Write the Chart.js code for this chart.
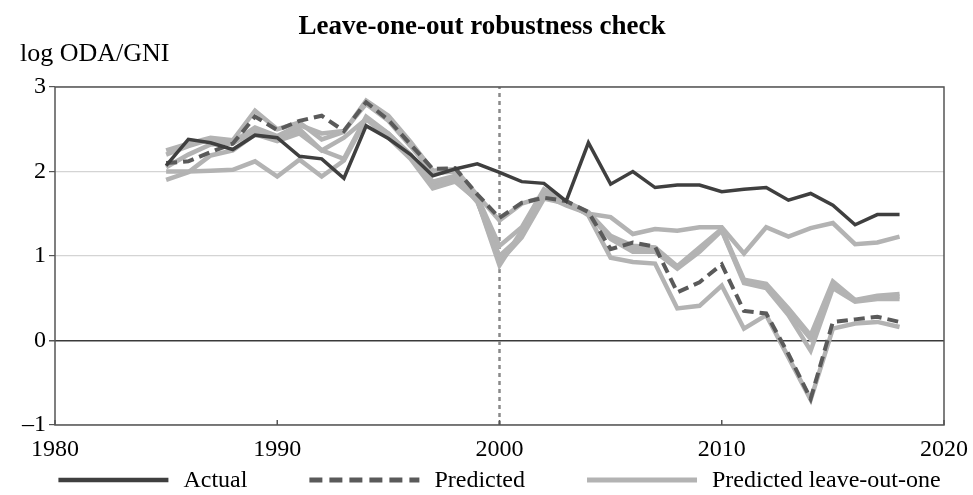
<!DOCTYPE html>
<html lang="en">
<head>
<meta charset="UTF-8">
<title>Leave-one-out robustness check</title>
<script src="https://cdn.jsdelivr.net/npm/chart.js"></script>
<style>
  html, body { margin: 0; padding: 0; background: #fff; }
  #caixa { width: 973px; height: 495px; }
</style>
</head>
<body>
<div id="caixa"><canvas id="grafico"></canvas></div>
<script>
// anos do eixo x
const anos = [1985, 1986, 1987, 1988, 1989, 1990, 1991, 1992, 1993, 1994, 1995, 1996,
  1997, 1998, 1999, 2000, 2001, 2002, 2003, 2004, 2005, 2006, 2007, 2008, 2009, 2010,
  2011, 2012, 2013, 2014, 2015, 2016, 2017, 2018];

// serie real
const actual = [2.07, 2.38, 2.34, 2.26, 2.43, 2.40, 2.18, 2.15, 1.92, 2.54, 2.39, 2.20,
  1.95, 2.03, 2.09, 1.99, 1.88, 1.86, 1.65, 2.34, 1.85, 2.00, 1.81, 1.84, 1.84, 1.76,
  1.79, 1.81, 1.66, 1.74, 1.60, 1.37, 1.49, 1.49];

// serie prevista
const predicted = [2.10, 2.12, 2.23, 2.33, 2.65, 2.49, 2.60, 2.66, 2.48, 2.82, 2.61, 2.32,
  2.03, 2.04, 1.73, 1.45, 1.63, 1.69, 1.65, 1.52, 1.08, 1.16, 1.11, 0.57, 0.69, 0.90,
  0.35, 0.32, -0.16, -0.69, 0.22, 0.25, 0.28, 0.22];

// previsoes deixando um de fora
const loo1 = [2.25, 2.33, 2.40, 2.37, 2.72, 2.50, 2.58, 2.38, 2.47, 2.84, 2.66, 2.35,
  2.01, 2.03, 1.72, 1.42, 1.62, 1.70, 1.62, 1.50, 1.46, 1.26, 1.32, 1.30, 1.34, 1.34,
  1.03, 1.34, 1.23, 1.33, 1.39, 1.14, 1.16, 1.23];
const loo2 = [2.20, 2.30, 2.38, 2.35, 2.52, 2.42, 2.55, 2.45, 2.48, 2.80, 2.60, 2.30,
  1.98, 2.00, 1.70, 1.12, 1.34, 1.79, 1.64, 1.52, 1.24, 1.12, 1.10, 0.88, 1.10, 1.32,
  0.72, 0.67, 0.38, 0.06, 0.70, 0.48, 0.53, 0.55];
const loo3 = [2.05, 2.20, 2.32, 2.33, 2.48, 2.38, 2.50, 2.25, 2.40, 2.62, 2.45, 2.19,
  1.88, 1.95, 1.64, 1.00, 1.24, 1.72, 1.60, 1.50, 1.20, 1.05, 1.05, 0.85, 1.05, 1.30,
  0.68, 0.62, 0.30, -0.12, 0.62, 0.46, 0.49, 0.49];
const loo4 = [2.00, 2.00, 2.01, 2.02, 2.12, 1.94, 2.14, 1.94, 2.13, 2.62, 2.40, 2.15,
  1.80, 1.88, 1.66, 0.89, 1.30, 1.75, 1.65, 1.48, 0.98, 0.93, 0.91, 0.38, 0.41, 0.65,
  0.14, 0.30, -0.20, -0.70, 0.14, 0.20, 0.22, 0.16];
const loo5 = [1.90, 1.99, 2.19, 2.25, 2.44, 2.36, 2.45, 2.25, 2.15, 2.65, 2.45, 2.20,
  1.85, 1.90, 1.66, 0.93, 1.22, 1.68, 1.62, 1.50, 1.22, 1.08, 1.08, 0.87, 1.08, 1.31,
  0.70, 0.64, 0.34, 0.02, 0.66, 0.47, 0.51, 0.52];

// linha vertical pontilhada
const anoCorte = 2000;

const xTicks = [1980, 1990, 2000, 2010, 2020];
const yTicks = [-1, 0, 1, 2, 3];

const fonte = 'Liberation Serif';
const corActual = '#3f3f3f';
const corPredicted = '#5a5a5a';
const corLoo = '#b3b3b3';

function pontos(valores) {
  return anos.map((a, i) => ({ x: a, y: valores[i] }));
}

function linhaLoo(valores, rotulo) {
  return {
    label: rotulo,
    data: pontos(valores),
    borderColor: corLoo,
    borderWidth: 4.5,
    pointRadius: 0,
    tension: 0,
    order: 3
  };
}

const dados = {
  datasets: [
    {
      label: 'Actual',
      data: pontos(actual),
      borderColor: corActual,
      borderWidth: 3.5,
      pointRadius: 0,
      tension: 0,
      order: 0
    },
    {
      label: 'Predicted',
      data: pontos(predicted),
      borderColor: corPredicted,
      borderWidth: 4,
      borderDash: [11, 6],
      pointRadius: 0,
      tension: 0,
      order: 1
    },
    linhaLoo(loo1, 'Predicted leave-out-one'),
    linhaLoo(loo2, ''),
    linhaLoo(loo3, ''),
    linhaLoo(loo4, ''),
    linhaLoo(loo5, ''),
    {
      label: '',
      data: [{ x: anoCorte, y: yTicks[0] }, { x: anoCorte, y: yTicks[yTicks.length - 1] }],
      borderColor: '#8a8a8a',
      borderWidth: 2.5,
      borderDash: [4, 4],
      pointRadius: 0,
      order: 4
    }
  ]
};

// itens da legenda desenhados como linhas
const itensLegenda = [
  { text: 'Actual', cor: corActual, largura: 4.5, traco: [] },
  { text: 'Predicted', cor: corPredicted, largura: 5, traco: [13, 7] },
  { text: 'Predicted leave-out-one', cor: corLoo, largura: 5, traco: [] }
];

// moldura da area do grafico, marcas do eixo x e legenda embaixo
const moldura = {
  id: 'moldura',
  afterDraw(chart) {
    const { ctx, chartArea: a, scales } = chart;
    ctx.save();
    ctx.strokeStyle = '#555';
    ctx.lineWidth = 1.5;
    ctx.setLineDash([]);
    ctx.strokeRect(a.left, a.top, a.right - a.left, a.bottom - a.top);
    xTicks.forEach(t => {
      const px = scales.x.getPixelForValue(t);
      ctx.beginPath();
      ctx.moveTo(px, a.bottom);
      ctx.lineTo(px, a.bottom - 5);
      ctx.stroke();
    });

    // legenda
    const amostra = 110, gapTexto = 15, gapItem = 62;
    ctx.font = '24px "' + fonte + '"';
    const larguras = itensLegenda.map(it => amostra + gapTexto + ctx.measureText(it.text).width);
    const total = larguras.reduce((s, w) => s + w, 0) + gapItem * (itensLegenda.length - 1);
    let x = (chart.width - total) / 2 + 13;
    const y = chart.height - 15;
    ctx.textBaseline = 'middle';
    ctx.fillStyle = '#000';
    itensLegenda.forEach((it, i) => {
      ctx.strokeStyle = it.cor;
      ctx.lineWidth = it.largura;
      ctx.setLineDash(it.traco);
      ctx.beginPath();
      ctx.moveTo(x, y);
      ctx.lineTo(x + amostra, y);
      ctx.stroke();
      ctx.setLineDash([]);
      ctx.fillText(it.text, x + amostra + gapTexto, y + 1);
      x += larguras[i] + gapItem;
    });
    ctx.restore();
  }
};

const config = {
  type: 'line',
  data: dados,
  plugins: [moldura],
  options: {
    responsive: true,
    maintainAspectRatio: false,
    animation: false,
    layout: { padding: { left: 20, right: 29, top: 0, bottom: 30 } },
    plugins: {
      tooltip: { enabled: false },
      legend: { display: false },
      title: {
        display: true,
        text: 'Leave-one-out robustness check',
        color: '#000',
        font: { family: fonte, size: 27, weight: 'bold', lineHeight: 1.0 },
        padding: { top: 14, bottom: 0 }
      },
      subtitle: {
        display: true,
        text: 'log ODA/GNI',
        align: 'start',
        color: '#000',
        font: { family: fonte, size: 26, lineHeight: 1.0 },
        padding: { top: 0, bottom: 20 }
      }
    },
    scales: {
      x: {
        type: 'linear',
        min: xTicks[0],
        max: xTicks[xTicks.length - 1],
        afterBuildTicks: s => { s.ticks = xTicks.map(v => ({ value: v })); },
        afterFit: s => { s.height = 40; },
        ticks: {
          color: '#000',
          font: { family: fonte, size: 24 },
          padding: 2,
          maxRotation: 0,
          callback: v => String(v)
        },
        grid: { display: false },
        border: { display: false }
      },
      y: {
        min: yTicks[0],
        max: yTicks[yTicks.length - 1],
        afterBuildTicks: s => { s.ticks = yTicks.map(v => ({ value: v })); },
        afterFit: s => { s.width = 35; },
        ticks: {
          color: '#000',
          font: { family: fonte, size: 24 },
          padding: 3,
          callback: v => (v < 0 ? '\u2013' + Math.abs(v) : String(v))
        },
        grid: {
          color: c => (c.tick && c.tick.value === 0 ? '#3a3a3a' : '#d4d4d4'),
          lineWidth: c => (c.tick && c.tick.value === 0 ? 1.5 : 1.2),
          tickColor: '#555',
          tickLength: 6
        },
        border: { display: false }
      }
    }
  }
};

let grafico = new Chart(document.getElementById('grafico'), config);
</script>
</body>
</html>
